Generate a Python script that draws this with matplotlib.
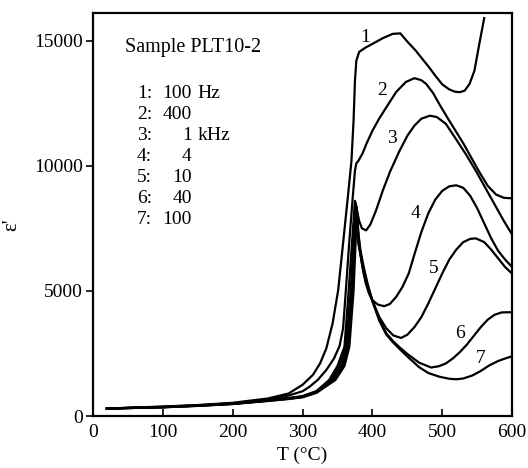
import matplotlib
matplotlib.use("Agg")
import matplotlib.pyplot as plt

plt.rcParams['font.family'] = ['Liberation Serif', 'DejaVu Serif']

# curve data: T (deg C) and epsilon'
T1 = [20, 60, 100, 150, 200, 250, 280, 300, 315, 325, 334, 343, 351, 358, 365, 370, 373, 375, 377,
      381, 390, 400, 415, 429, 440, 450, 462, 472, 481, 490, 500, 510, 518, 525, 532, 539, 546, 553, 560]
E1 = [300, 340, 380, 440, 530, 700, 900, 1250, 1650, 2100, 2700, 3700, 5030, 6900, 8800, 10200, 11800, 13400, 14200,
      14550, 14720, 14870, 15100, 15270, 15290, 14960, 14600, 14250, 13940, 13600, 13250, 13050, 12960, 12940, 13000,
      13270, 13800, 14870, 15900]

T2 = [20, 100, 150, 200, 250, 280, 300, 310, 322, 334, 345, 353, 358, 362, 367, 372, 375, 377, 380, 386, 391,
      400, 410, 420, 434, 448, 460, 470, 477, 487, 496, 510, 520, 530, 540, 553, 565, 577, 588, 600]
E2 = [300, 370, 430, 510, 660, 820, 990, 1170, 1450, 1840, 2300, 2800, 3500, 5030, 7000, 8800, 9800, 10100, 10200,
      10500, 10850, 11400, 11900, 12340, 12950, 13350, 13500, 13420, 13270, 12900, 12450, 11800, 11350, 10900, 10400,
      9750, 9200, 8850, 8720, 8700]

T3 = [20, 100, 150, 200, 250, 280, 300, 320, 338, 350, 360, 366, 371, 375, 378, 381, 385, 391, 397, 405, 415,
      425, 438, 450, 460, 470, 482, 492, 505, 520, 534, 548, 562, 575, 588, 600]
E3 = [300, 360, 420, 500, 640, 720, 800, 1000, 1440, 2000, 2770, 5000, 7000, 8600, 8200, 7800, 7500, 7420, 7650,
      8200, 9020, 9750, 10550, 11200, 11600, 11880, 12000, 11950, 11680, 11050, 10450, 9800, 9100, 8450, 7800, 7250]

T4 = [20, 100, 150, 200, 250, 280, 300, 320, 341, 353, 362, 369, 373, 376, 378, 382, 386, 390, 395, 400, 408,
      417, 425, 434, 443, 452, 460, 470, 480, 490, 500, 510, 520, 530, 540, 550, 560, 570, 580, 590, 600]
E4 = [300, 360, 420, 495, 630, 710, 780, 960, 1440, 2000, 2770, 5000, 7000, 8500, 8000, 6700, 5900, 5350, 4900,
      4630, 4450, 4390, 4480, 4760, 5160, 5700, 6450, 7350, 8100, 8650, 9000, 9180, 9220, 9120, 8800, 8300, 7700,
      7100, 6600, 6250, 5950]

T5 = [20, 100, 150, 200, 250, 280, 300, 320, 343, 356, 364, 371, 374, 377, 379, 383, 388, 393, 400, 410, 420,
      430, 441, 450, 460, 470, 480, 490, 500, 510, 520, 530, 540, 548, 560, 570, 580, 590, 600]
E5 = [300, 355, 415, 490, 620, 700, 770, 950, 1440, 2000, 2770, 5000, 7000, 8400, 7400, 6600, 5900, 5300, 4600,
      3950, 3500, 3220, 3120, 3250, 3550, 3950, 4500, 5100, 5700, 6250, 6650, 6950, 7080, 7100, 6950, 6650, 6300,
      5950, 5690]

T6 = [20, 100, 150, 200, 250, 280, 300, 320, 345, 358, 366, 372, 375, 377.5, 379.5, 384, 390, 396, 403, 410,
      420, 430, 440, 450, 467, 484, 495, 505, 515, 525, 535, 545, 555, 565, 575, 585, 600]
E6 = [300, 350, 410, 485, 610, 690, 760, 940, 1440, 2000, 2770, 5000, 7000, 8300, 7000, 6300, 5500, 4950, 4400,
      3850, 3300, 2980, 2720, 2480, 2130, 1940, 1990, 2100, 2300, 2550, 2850, 3200, 3550, 3850, 4050, 4140, 4150]

T7 = [20, 100, 150, 200, 250, 280, 300, 320, 347, 360, 367, 373, 376, 378, 380, 385, 390, 396, 403, 410, 420,
      430, 440, 450, 467, 480, 496, 510, 520, 530, 543, 555, 567, 580, 590, 600]
E7 = [300, 350, 405, 480, 600, 680, 750, 930, 1440, 2000, 2770, 5000, 7000, 8200, 6900, 6100, 5450, 4900, 4350,
      3800, 3250, 2930, 2650, 2380, 1950, 1720, 1570, 1490, 1470, 1500, 1620, 1800, 2020, 2200, 2300, 2390]

curves = [(T1, E1), (T2, E2), (T3, E3), (T4, E4), (T5, E5), (T6, E6), (T7, E7)]

# curve number labels
label_T = [389, 414, 428, 462, 488, 525, 555]
label_E = [15120, 13010, 11080, 8090, 5890, 3300, 2300]

# legend text
legend_keys = ["1:", "2:", "3:", "4:", "5:", "6:", "7:"]
legend_nums = ["100", "400", "1", "4", "10", "40", "100"]
legend_units = ["Hz", "", "kHz", "", "", "", ""]

fig = plt.figure(figsize=(5.28, 4.68), dpi=100)
ax = fig.add_axes([0.176, 0.111, 0.794, 0.861])

for T, E in curves:
    ax.plot(T, E, color="black", lw=1.6, solid_joinstyle="round")

for i in range(len(label_T)):
    ax.text(label_T[i], label_E[i], str(i + 1), fontsize=14, ha="center", va="center")

ax.text(0.076, 0.903, "Sample PLT10-2", transform=ax.transAxes, fontsize=14.5, va="baseline")
for i in range(len(legend_keys)):
    y = 0.789 - 0.0521 * i
    ax.text(0.105, y, legend_keys[i], transform=ax.transAxes, fontsize=14, va="baseline")
    ax.text(0.236, y, legend_nums[i], transform=ax.transAxes, fontsize=14, va="baseline", ha="right")
    if legend_units[i]:
        ax.text(0.250, y, legend_units[i], transform=ax.transAxes, fontsize=14, va="baseline")

ax.set_xlim(0, 600)
ax.set_ylim(0, 16100)
ax.set_xticks([0, 100, 200, 300, 400, 500, 600])
ax.set_yticks([0, 5000, 10000, 15000])
ax.tick_params(axis="x", direction="in", length=5, width=1.2, labelsize=14, pad=6)
ax.tick_params(axis="y", direction="out", length=5, width=1.2, labelsize=14, pad=2)
for s in ax.spines.values():
    s.set_linewidth(1.6)

ax.set_xlabel("T (°C)", fontsize=14, labelpad=4)
ax.set_ylabel("ε'", fontsize=15)
ax.yaxis.set_label_coords(-0.172, 0.474)

fig.savefig("out.png", dpi=100)
